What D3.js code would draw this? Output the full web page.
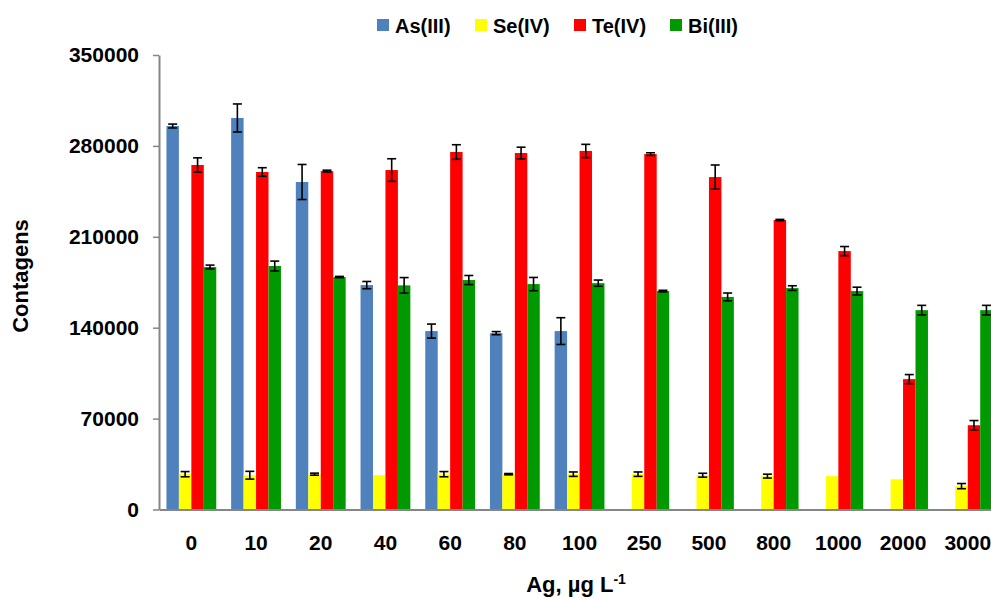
<!DOCTYPE html>
<html>
<head>
<meta charset="utf-8">
<script src="https://cdn.jsdelivr.net/npm/d3@7"></script>
<style>
  body { margin: 0; background: #fff; }
  svg { display: block; font-family: "Liberation Sans", Arial, sans-serif; }
</style>
</head>
<body>
<script>
// chart data
const categories = ['0', '10', '20', '40', '60', '80', '100', '250', '500', '800', '1000', '2000', '3000'];
const seriesNames = ['As(III)', 'Se(IV)', 'Te(IV)', 'Bi(III)'];
const asValues = [295300, 301500, 252200, 172800, 137400, 135800, 137400, null, null, null, null, null, null];
const asErrors = [1500, 10800, 13500, 2800, 5400, 1200, 10300, null, null, null, null, null, null];
const seValues = [27200, 26400, 27200, 26400, 27200, 27200, 27200, 27200, 26400, 25700, 25700, 23300, 18000];
const seErrors = [2000, 3000, 800, 0, 2000, 500, 1700, 1700, 1500, 1500, 0, 0, 2000];
const teValues = [265300, 259900, 260600, 261400, 275300, 274500, 276100, 273700, 256000, 222900, 199000, 100400, 64900];
const teErrors = [5500, 3300, 700, 8700, 5600, 4500, 5100, 1000, 9300, 500, 3500, 3500, 3600];
const biValues = [186700, 187500, 179000, 172600, 176700, 173600, 174300, 168200, 163700, 170500, 168200, 153500, 153500];
const biErrors = [1500, 3800, 500, 6000, 3500, 5100, 2400, 600, 3000, 1800, 3000, 3700, 3700];
const yTicks = [0, 70000, 140000, 210000, 280000, 350000];

const colors = ['#4F81BD', '#FFFF00', '#FF0000', '#009900'];

// sizes
const svgWidth = 991;
const svgHeight = 599;
const plotLeft = 159;
const plotTop = 55;
const plotBottom = 509.5;
const step = 64.7;

const svg = d3.select('body')
              .append('svg')
              .attr('width', svgWidth)
              .attr('height', svgHeight);

// build rows from the arrays
const allValues = [asValues, seValues, teValues, biValues];
const allErrors = [asErrors, seErrors, teErrors, biErrors];
const rows = [];
categories.forEach((c, i) => {
    seriesNames.forEach((s, j) => {
        if (allValues[j][i] != null) {
            rows.push({cat: c, series: s, idx: j, value: allValues[j][i], err: allErrors[j][i]});
        }
    });
});

// scales
const xScale = d3.scaleBand()
                 .domain(categories)
                 .range([plotLeft, plotLeft + step * categories.length])
                 .paddingInner(0.23)
                 .paddingOuter(0.115);

const innerScale = d3.scaleBand()
                     .domain(seriesNames)
                     .range([0, xScale.bandwidth()]);

const yScale = d3.scaleLinear()
                 .domain([0, 350000])
                 .range([plotBottom, plotTop]);

const colorScale = d3.scaleOrdinal()
                     .domain(seriesNames)
                     .range(colors);

// bars
svg.append('g')
   .selectAll('rect')
   .data(rows)
   .enter()
   .append('rect')
   .attr('x', d => xScale(d.cat) + innerScale(d.series))
   .attr('y', d => yScale(d.value))
   .attr('width', innerScale.bandwidth())
   .attr('height', d => plotBottom - yScale(d.value))
   .attr('fill', d => colorScale(d.series));

// error bars
const errRows = rows.filter(d => d.err > 0);
const errG = svg.append('g')
                .attr('stroke', '#000')
                .attr('stroke-width', 1.6);
const capHalf = 4.5;
errRows.forEach(d => {
    const cx = xScale(d.cat) + innerScale(d.series) + innerScale.bandwidth() / 2;
    const y1 = yScale(d.value + d.err);
    const y2 = yScale(d.value - d.err);
    errG.append('line').attr('x1', cx).attr('x2', cx).attr('y1', y1).attr('y2', y2);
    errG.append('line').attr('x1', cx - capHalf).attr('x2', cx + capHalf).attr('y1', y1).attr('y2', y1);
    errG.append('line').attr('x1', cx - capHalf).attr('x2', cx + capHalf).attr('y1', y2).attr('y2', y2);
});

// axes
const yAxis = d3.axisLeft(yScale)
                .tickValues(yTicks)
                .tickFormat(d3.format('d'))
                .tickSize(6)
                .tickSizeOuter(0)
                .tickPadding(14);
const yAxisG = svg.append('g')
                  .attr('transform', 'translate(' + plotLeft + ',0)')
                  .call(yAxis);

const xAxis = d3.axisBottom(xScale)
                .tickSize(0)
                .tickPadding(26);
const xAxisG = svg.append('g')
                  .attr('transform', 'translate(0,' + plotBottom + ')')
                  .call(xAxis);

[yAxisG, xAxisG].forEach(g => {
    g.select('.domain').attr('stroke', '#868686').attr('stroke-width', 2);
    g.selectAll('.tick line').attr('stroke', '#868686').attr('stroke-width', 1.5);
    g.selectAll('.tick text')
     .attr('fill', '#000')
     .style('font-family', '"Liberation Sans", Arial, sans-serif')
     .style('font-size', '21px')
     .style('font-weight', 'bold');
});

// axis titles
svg.append('text')
   .attr('transform', 'translate(28,276) rotate(-90)')
   .attr('text-anchor', 'middle')
   .style('font-size', '22px')
   .style('font-weight', 'bold')
   .text('Contagens');

const xTitle = svg.append('text')
                  .attr('x', 576)
                  .attr('y', 592)
                  .attr('text-anchor', 'middle')
                  .style('font-size', '22px')
                  .style('font-weight', 'bold');
xTitle.append('tspan').text('Ag, µg L');
xTitle.append('tspan').attr('dy', -8).style('font-size', '14px').text('-1');

// legend
const legendX = [377, 475, 574, 670];
const legend = svg.append('g')
                  .selectAll('g')
                  .data(seriesNames)
                  .enter()
                  .append('g')
                  .attr('transform', (d, i) => 'translate(' + legendX[i] + ',19)');
legend.append('rect')
      .attr('width', 12)
      .attr('height', 12)
      .attr('fill', d => colorScale(d));
legend.append('text')
      .attr('x', 18)
      .attr('y', 13.5)
      .style('font-size', '20px')
      .style('font-weight', 'bold')
      .text(d => d);
</script>
</body>
</html>
